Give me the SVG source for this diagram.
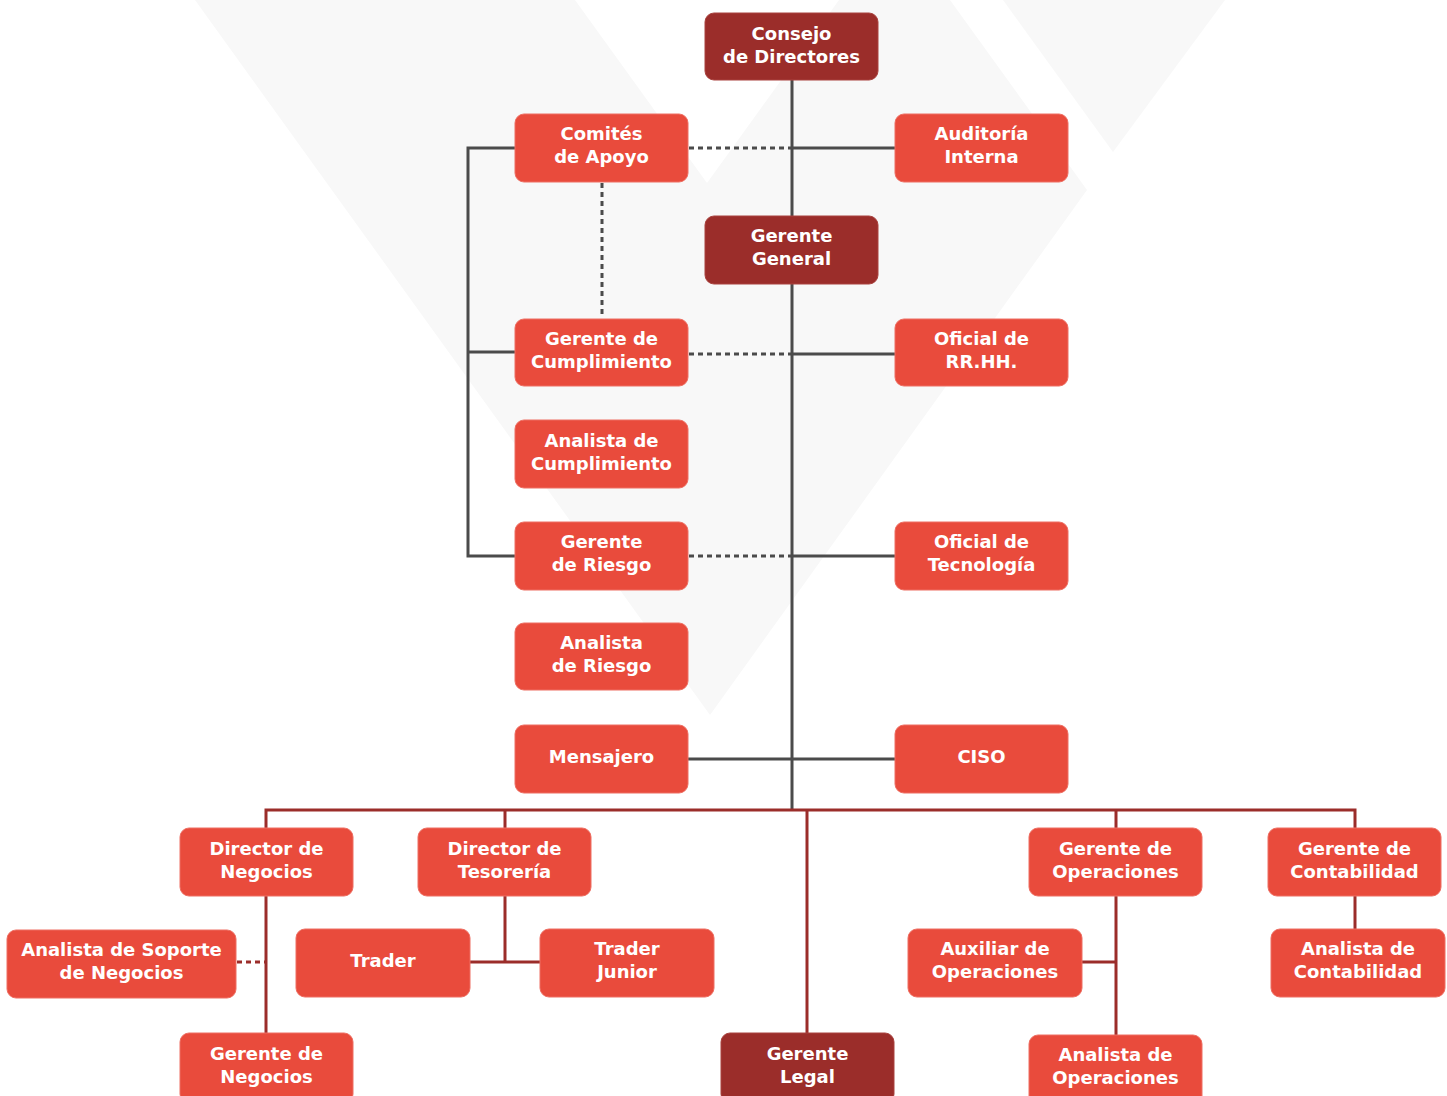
<svg xmlns="http://www.w3.org/2000/svg" width="1447" height="1096" viewBox="0 0 1447 1096">
<style>
.bg{fill:#f8f8f8}
.n rect{fill:#e94b3c;stroke:#ee6e62;stroke-width:1}
.n.d rect{fill:#9b2d2a;stroke:#a9423e}
.n text{fill:#ffffff;font-family:"DejaVu Sans","Liberation Sans",sans-serif;font-weight:700;font-size:18px;text-anchor:middle}
.g{stroke:#4b4b4b;stroke-width:3;fill:none}
.gd{stroke:#4b4b4b;stroke-width:3;fill:none;stroke-dasharray:5 4}
.r{stroke:#9b2d2a;stroke-width:3;fill:none}
.rd{stroke:#9b2d2a;stroke-width:3;fill:none;stroke-dasharray:5 4}
</style>
<rect width="1447" height="1096" fill="#ffffff"/>
<g id="background">
<polygon class="bg" points="195,0 575,0 707,183 839,0 950,0 1087,190 710,715"/>
<polygon class="bg" points="1003,0 1225,0 1113,152"/>
</g>
<g id="connectors">
<path class="g" d="M792,80 V810"/>
<path class="g" d="M792,148 H895"/>
<path class="gd" d="M689,148 H791"/>
<path class="g" d="M792,354 H895"/>
<path class="gd" d="M689,354 H791"/>
<path class="g" d="M792,556 H895"/>
<path class="gd" d="M689,556 H791"/>
<path class="g" d="M688,759 H895"/>
<path class="g" d="M515,148 H468 V556 H515 M468,352 H515"/>
<path class="gd" d="M602,183 V318"/>
<path class="r" d="M266,828 V810 H1355 V828"/>
<path class="r" d="M505,810 V828 M807,810 V1033 M1116,810 V828"/>
<path class="r" d="M266,896 V1033"/>
<path class="r" d="M505,896 V962 M470,962 H540"/>
<path class="rd" d="M237,962 H265"/>
<path class="r" d="M1116,896 V1035 M1082,962 H1116"/>
<path class="r" d="M1355,896 V929"/>
</g>
<g id="n-consejo" class="n d"><rect x="705" y="13" width="173" height="67" rx="9"/><text x="791.5" y="40">Consejo</text><text x="791.5" y="63">de Directores</text></g>
<g id="n-comites" class="n"><rect x="515" y="114" width="173" height="68" rx="9"/><text x="601.5" y="140">Comités</text><text x="601.5" y="163">de Apoyo</text></g>
<g id="n-auditoria" class="n"><rect x="895" y="114" width="173" height="68" rx="9"/><text x="981.5" y="140">Auditoría</text><text x="981.5" y="163">Interna</text></g>
<g id="n-gerente-general" class="n d"><rect x="705" y="216" width="173" height="68" rx="9"/><text x="791.5" y="242">Gerente</text><text x="791.5" y="265">General</text></g>
<g id="n-gerente-cumplimiento" class="n"><rect x="515" y="319" width="173" height="67" rx="9"/><text x="601.5" y="345">Gerente de</text><text x="601.5" y="368">Cumplimiento</text></g>
<g id="n-rrhh" class="n"><rect x="895" y="319" width="173" height="67" rx="9"/><text x="981.5" y="345">Oficial de</text><text x="981.5" y="368">RR.HH.</text></g>
<g id="n-analista-cumplimiento" class="n"><rect x="515" y="420" width="173" height="68" rx="9"/><text x="601.5" y="447">Analista de</text><text x="601.5" y="470">Cumplimiento</text></g>
<g id="n-gerente-riesgo" class="n"><rect x="515" y="522" width="173" height="68" rx="9"/><text x="601.5" y="548">Gerente</text><text x="601.5" y="571">de Riesgo</text></g>
<g id="n-tecnologia" class="n"><rect x="895" y="522" width="173" height="68" rx="9"/><text x="981.5" y="548">Oficial de</text><text x="981.5" y="571">Tecnología</text></g>
<g id="n-analista-riesgo" class="n"><rect x="515" y="623" width="173" height="67" rx="9"/><text x="601.5" y="649">Analista</text><text x="601.5" y="672">de Riesgo</text></g>
<g id="n-mensajero" class="n"><rect x="515" y="725" width="173" height="68" rx="9"/><text x="601.5" y="763">Mensajero</text></g>
<g id="n-ciso" class="n"><rect x="895" y="725" width="173" height="68" rx="9"/><text x="981.5" y="763">CISO</text></g>
<g id="n-director-negocios" class="n"><rect x="180" y="828" width="173" height="68" rx="9"/><text x="266.5" y="855">Director de</text><text x="266.5" y="878">Negocios</text></g>
<g id="n-director-tesoreria" class="n"><rect x="418" y="828" width="173" height="68" rx="9"/><text x="504.5" y="855">Director de</text><text x="504.5" y="878">Tesorería</text></g>
<g id="n-gerente-operaciones" class="n"><rect x="1029" y="828" width="173" height="68" rx="9"/><text x="1115.5" y="855">Gerente de</text><text x="1115.5" y="878">Operaciones</text></g>
<g id="n-gerente-contabilidad" class="n"><rect x="1268" y="828" width="173" height="68" rx="9"/><text x="1354.5" y="855">Gerente de</text><text x="1354.5" y="878">Contabilidad</text></g>
<g id="n-analista-soporte" class="n"><rect x="7" y="930" width="229" height="68" rx="9"/><text x="121.5" y="956">Analista de Soporte</text><text x="121.5" y="979">de Negocios</text></g>
<g id="n-trader" class="n"><rect x="296" y="929" width="174" height="68" rx="9"/><text x="383" y="967">Trader</text></g>
<g id="n-trader-junior" class="n"><rect x="540" y="929" width="174" height="68" rx="9"/><text x="627" y="955">Trader</text><text x="627" y="978">Junior</text></g>
<g id="n-auxiliar-operaciones" class="n"><rect x="908" y="929" width="174" height="68" rx="9"/><text x="995" y="955">Auxiliar de</text><text x="995" y="978">Operaciones</text></g>
<g id="n-analista-contabilidad" class="n"><rect x="1271" y="929" width="174" height="68" rx="9"/><text x="1358" y="955">Analista de</text><text x="1358" y="978">Contabilidad</text></g>
<g id="n-gerente-negocios" class="n"><rect x="180" y="1033" width="173" height="70" rx="9"/><text x="266.5" y="1060">Gerente de</text><text x="266.5" y="1083">Negocios</text></g>
<g id="n-gerente-legal" class="n d"><rect x="721" y="1033" width="173" height="70" rx="9"/><text x="807.5" y="1060">Gerente</text><text x="807.5" y="1083">Legal</text></g>
<g id="n-analista-operaciones" class="n"><rect x="1029" y="1035" width="173" height="70" rx="9"/><text x="1115.5" y="1061">Analista de</text><text x="1115.5" y="1084">Operaciones</text></g>
</svg>
